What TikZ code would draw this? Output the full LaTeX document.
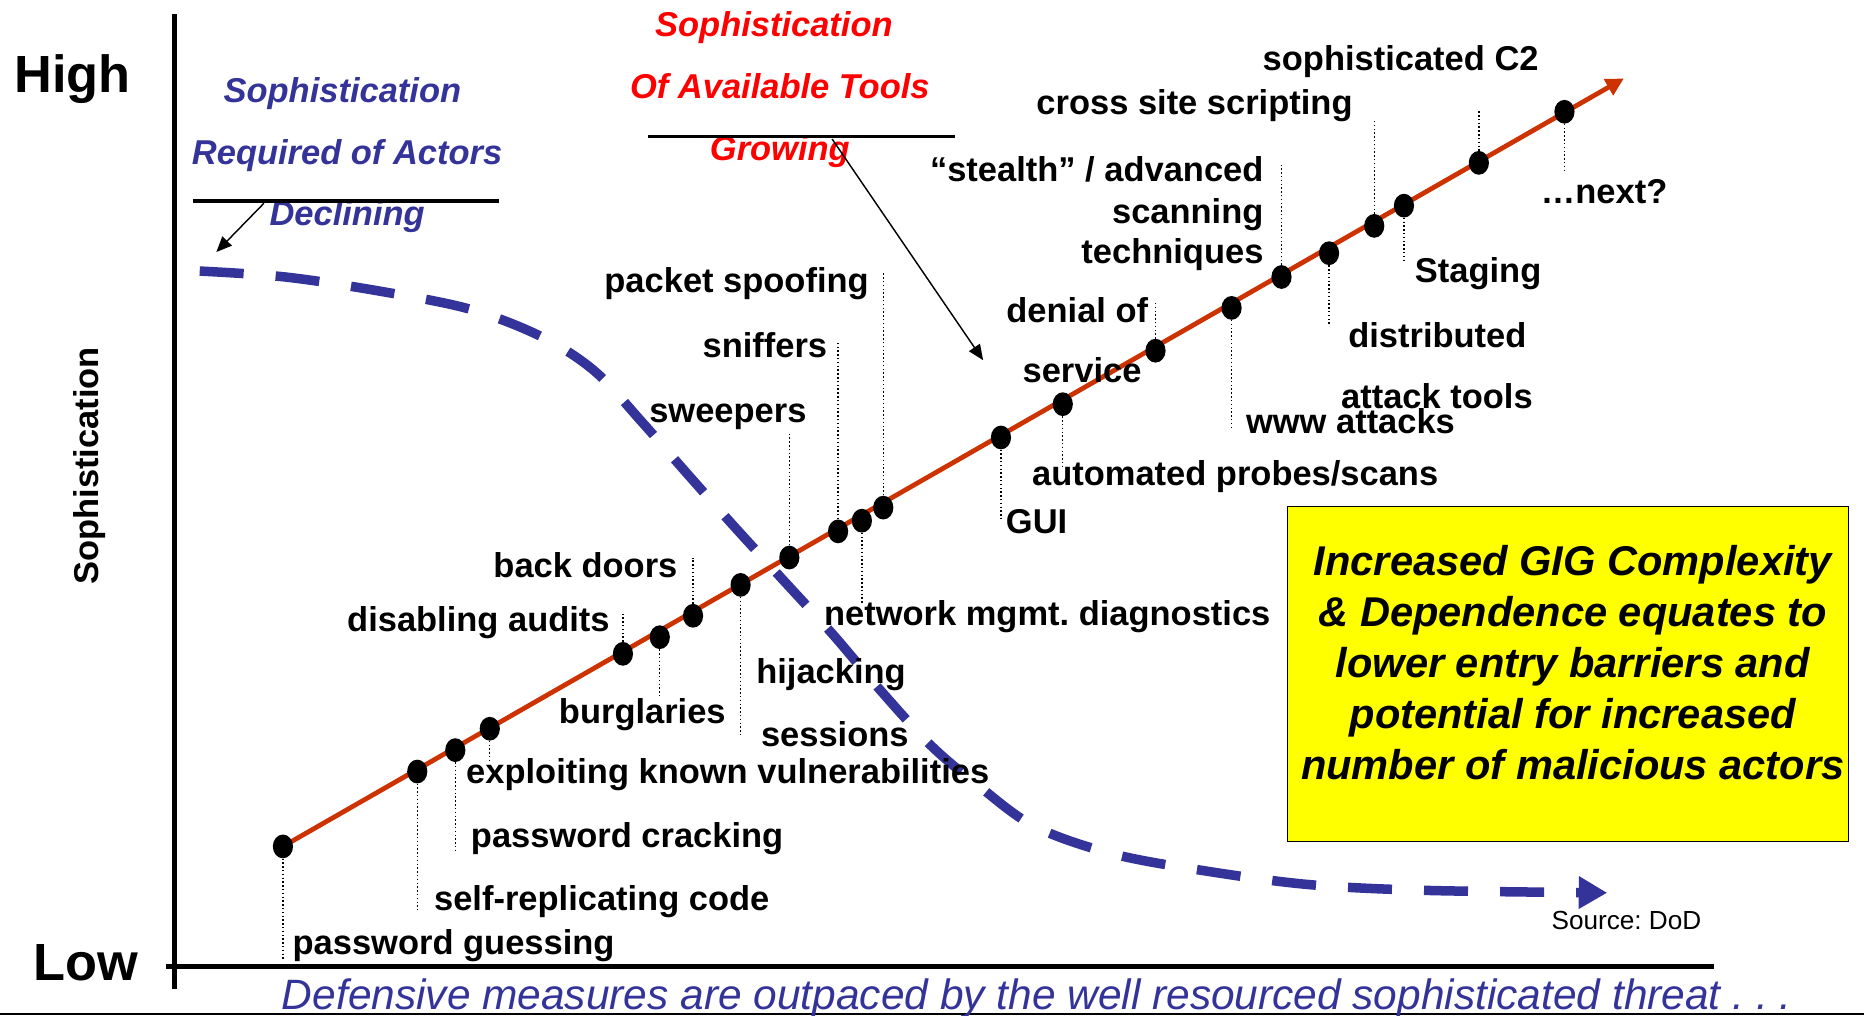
\documentclass[tikz,border=0pt]{standalone}
\usepackage{fontspec}
\setmainfont{Liberation Sans}
\usetikzlibrary{arrows.meta,shapes.geometric}
\definecolor{trendred}{HTML}{CC3300}
\definecolor{actorblue}{HTML}{333399}
\definecolor{toolred}{HTML}{FF0000}
\definecolor{boxyellow}{HTML}{FFFF00}
\frenchspacing
\begin{document}
\begin{tikzpicture}[x=1pt,y=-1pt,
  dot/.style={ellipse, fill=black, minimum width=17pt, minimum height=20pt, inner sep=0pt},
  lbl/.style={font=\fontsize{29}{34}\selectfont\bfseries, inner sep=0pt},
  leader/.style={dotted, line width=1.2pt},
  axisline/.style={line width=4pt, black},
  headrule/.style={line width=3pt, black},
  pointer/.style={line width=1.2pt, black, -{Triangle[length=13pt,width=11pt]}},
  bluehead/.style={font=\fontsize{29}{34}\selectfont\bfseries\itshape, text=actorblue, inner sep=0pt},
  redhead/.style={font=\fontsize{29}{34}\selectfont\bfseries\itshape, text=toolred, inner sep=0pt},
  big/.style={font=\fontsize{44}{50}\selectfont\bfseries, inner sep=0pt}
]
\useasboundingbox (0,0) rectangle (1568,854);

% axes
\coordinate (vtop) at (147,12);
\coordinate (vbot) at (147,832);
\coordinate (hl) at (140,813);
\coordinate (hr) at (1442,813);
\draw[axisline] (vtop) -- (vbot);
\draw[axisline] (hl) -- (hr);
\coordinate (bl) at (0,853);
\coordinate (br) at (1568,853);
\draw[line width=1.5pt] (bl) -- (br);

\node[big, anchor=base west] (high) at (12,78) {High};
\node[big, anchor=base west] (low) at (28,825) {Low};
\node[lbl, rotate=90] (yax) at (75,392) {Sophistication};

% declining curve
\draw[actorblue, line width=8pt, dash pattern=on 37pt off 27pt, -{Triangle[length=24pt,width=26pt]}]
  plot[smooth, tension=0.55] coordinates {(168,228) (240,233) (320,245) (395,260) (455,283) (500,312) (540,355) (575,395) (615,440) (657,486) (700,533) (740,580) (783,627) (822,660) (870,695) (935,718) (1010,732) (1100,744) (1200,749) (1352,751)};

% trend line
\coordinate (p1) at (238,712);
\coordinate (p2) at (351,649);
\coordinate (p3) at (383,631);
\coordinate (p4) at (412,613);
\coordinate (p5) at (524,550);
\coordinate (p6) at (555,536);
\coordinate (p7) at (583,518);
\coordinate (p8) at (623,492);
\coordinate (p9) at (664,469);
\coordinate (p10) at (705,447);
\coordinate (p11) at (725,438);
\coordinate (p12) at (743,427);
\coordinate (p13) at (842,368);
\coordinate (p14) at (894,340);
\coordinate (p15) at (972,295);
\coordinate (p16) at (1036,259);
\coordinate (p17) at (1078,233);
\coordinate (p18) at (1118,213);
\coordinate (p19) at (1156,190);
\coordinate (p20) at (1181,173);
\coordinate (p21) at (1244,137);
\coordinate (p22) at (1316,94);
\coordinate (tip) at (1366,66);
\draw[trendred, line width=4pt, -{Triangle[length=15pt,width=15pt]}] (p1) -- (tip);

\foreach \i in {1,...,22} {\node[dot] (d\i) at (p\i) {};}

% leader end points
\coordinate (e1) at (238,808);
\coordinate (e2) at (351,765);
\coordinate (e3) at (383,716);
\coordinate (e4) at (412,642);
\coordinate (e5) at (524,516);
\coordinate (e6) at (555,585);
\coordinate (e7) at (583,469);
\coordinate (e8) at (623,618);
\coordinate (e9) at (664,363);
\coordinate (e10) at (705,287);
\coordinate (e11) at (725,508);
\coordinate (e12) at (743,230);
\coordinate (e13) at (842,436);
\coordinate (e14) at (894,392);
\coordinate (e15) at (972,254);
\coordinate (e16) at (1036,359);
\coordinate (e17) at (1078,137);
\coordinate (e18) at (1118,274);
\coordinate (e19) at (1156,100);
\coordinate (e20) at (1181,219);
\coordinate (e21) at (1244,92);
\coordinate (e22) at (1316,144);
\foreach \i in {1,...,22} {\draw[leader] (d\i) -- (e\i);}

% labels
\node[lbl, anchor=base west] (l1) at (246,803) {password guessing};
\node[lbl, anchor=base west] (l2) at (365,766) {self-replicating code};
\node[lbl, anchor=base west] (l3) at (396,713) {password cracking};
\node[lbl, anchor=base west] (l4) at (392,659) {exploiting known vulnerabilities};
\node[lbl, anchor=base east] (l5) at (513,531) {disabling audits};
\node[lbl, anchor=base west] (l6) at (470,609) {burglaries};
\node[lbl, anchor=base east] (l7) at (570,486) {back doors};
\node[lbl, anchor=base west] (l8a) at (636,575) {hijacking};
\node[lbl, anchor=base west] (l8b) at (640,628) {sessions};
\node[lbl, anchor=base west] (l9) at (546,355) {sweepers};
\node[lbl, anchor=base east] (l10) at (696,301) {sniffers};
\node[lbl, anchor=base west] (l11) at (693,526) {network mgmt. diagnostics};
\node[lbl, anchor=base east] (l12) at (731,246) {packet spoofing};
\node[lbl, anchor=base west] (l13) at (846,449) {GUI};
\node[lbl, anchor=base west] (l14) at (868,408) {automated probes/scans};
\node[lbl, anchor=base east] (l15a) at (966,271) {denial of};
\node[lbl, anchor=base west] (l15b) at (860,322) {service};
\node[lbl, anchor=base west] (l16) at (1048,365) {www attacks};
\node[lbl, anchor=base east] (l17a) at (1063,153) {“stealth” / advanced};
\node[lbl, anchor=base east] (l17b) at (1063,188) {scanning};
\node[lbl, anchor=base east] (l17c) at (1063,222) {techniques};
\node[lbl, anchor=base west] (l18a) at (1134,292) {distributed};
\node[lbl, anchor=base west] (l18b) at (1128,344) {attack tools};
\node[lbl, anchor=base east] (l19) at (1138,96) {cross site scripting};
\node[lbl, anchor=base west] (l20) at (1190,238) {Staging};
\node[lbl, anchor=base west] (l21) at (1062,59) {sophisticated C2};
\node[lbl, anchor=base west] (l22) at (1296,171) {…next?};

% actors heading
\node[bluehead, anchor=base] (ah1) at (288,86) {Sophistication};
\node[bluehead, anchor=base] (ah2) at (292,138) {Required of Actors};
\node[bluehead, anchor=base] (ah3) at (292,190) {Declining};
\coordinate (ar1) at (162,169);
\coordinate (ar2) at (420,169);
\draw[headrule] (ar1) -- (ar2);
\coordinate (aa1) at (222,171);
\coordinate (aa2) at (182,212);
\draw[pointer] (aa1) -- (aa2);

% tools heading
\node[redhead, anchor=base] (th1) at (651,31) {Sophistication};
\node[redhead, anchor=base] (th2) at (656,83) {Of Available Tools};
\node[redhead, anchor=base] (th3) at (656,135) {Growing};
\coordinate (tr1) at (545,115);
\coordinate (tr2) at (803,115);
\draw[headrule] (tr1) -- (tr2);
\coordinate (ta1) at (700,117);
\coordinate (ta2) at (827,303);
\draw[pointer] (ta1) -- (ta2);

% yellow box
\node[draw=black, line width=1.2pt, fill=boxyellow, minimum width=472pt, minimum height=282pt, inner sep=0pt] (box) at (1319,567) {};
\node[font=\fontsize{35}{43}\selectfont\bfseries\itshape, align=center, inner sep=0pt, anchor=base] (boxtxt) at (1323,656)
  {Increased GIG Complexity\\ \& Dependence equates to\\ lower entry barriers and\\ potential for increased\\ number of malicious actors};

\node[font=\fontsize{22}{26}\selectfont, anchor=base west, inner sep=0pt] (src) at (1305,782) {Source: DoD};

\node[font=\fontsize{35.7}{40}\selectfont\itshape, text=actorblue, anchor=base west, inner sep=0pt] (foot) at (237,849)
  {Defensive measures are outpaced by the well resourced sophisticated threat . . .};
\end{tikzpicture}
\end{document}
